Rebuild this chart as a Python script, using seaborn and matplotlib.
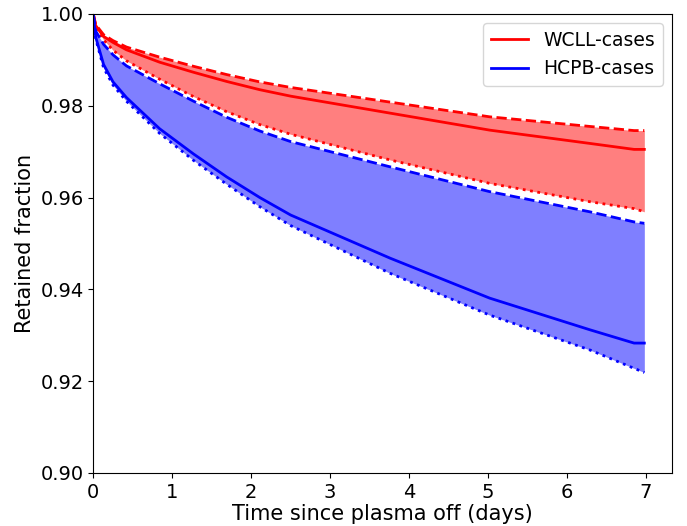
import matplotlib
matplotlib.use("Agg")
import matplotlib.pyplot as plt
import seaborn as sns

# Time since plasma shutdown (days)
days = [0.0, 0.03, 0.13, 0.25, 0.42, 0.84, 1.27, 1.69, 2.11, 2.5, 3.76, 5.02, 6.29, 6.85, 6.98]

# WCLL: upper bound, nominal, lower bound
wcll_upper = [1.0, 0.9977, 0.9955, 0.9942, 0.9928, 0.9906, 0.9886, 0.9868, 0.9852,
              0.9840, 0.9808, 0.9776, 0.9755, 0.9746, 0.9746]
wcll_nominal = [1.0, 0.9975, 0.9951, 0.9938, 0.9922, 0.9895, 0.9873, 0.9853, 0.9835,
                0.9821, 0.9784, 0.9747, 0.9718, 0.9705, 0.9705]
wcll_lower = [1.0, 0.9972, 0.9944, 0.9921, 0.9898, 0.9858, 0.9820, 0.9787, 0.9759,
              0.9738, 0.9682, 0.9631, 0.9591, 0.9576, 0.9569]

# HCPB: upper bound, nominal, lower bound
hcpb_upper = [1.0, 0.9963, 0.9934, 0.9911, 0.9887, 0.9848, 0.9810, 0.9775, 0.9745,
              0.9722, 0.9667, 0.9613, 0.9569, 0.9547, 0.9544]
hcpb_nominal = [1.0, 0.9950, 0.9890, 0.9852, 0.9818, 0.9750, 0.9695, 0.9645, 0.9600,
                0.9562, 0.9468, 0.9381, 0.9312, 0.9283, 0.9283]
hcpb_lower = [1.0, 0.9946, 0.9883, 0.9845, 0.9810, 0.9740, 0.9681, 0.9629, 0.9580,
              0.9539, 0.9435, 0.9344, 0.9268, 0.9228, 0.9219]

fig, ax = plt.subplots(figsize=(6.87, 5.26), dpi=100)
fig.subplots_adjust(left=0.1358, right=0.978, bottom=0.1008, top=0.9734)

lw = 2
for upper, nominal, lower, col, name in [
    (wcll_upper, wcll_nominal, wcll_lower, "red", "WCLL-cases"),
    (hcpb_upper, hcpb_nominal, hcpb_lower, "blue", "HCPB-cases"),
]:
    ax.fill_between(days, lower, upper, color=col, alpha=0.5, linewidth=0)
    sns.lineplot(x=days, y=nominal, color=col, lw=lw, label=name, ax=ax)
    sns.lineplot(x=days, y=upper, color=col, lw=lw, linestyle="--", legend=False, ax=ax)
    sns.lineplot(x=days, y=lower, color=col, lw=lw, linestyle=":", legend=False, ax=ax)

ax.set_xlim(left=0)
ax.set_ylim(0.90, 1.00)
yticks = [0.90, 0.92, 0.94, 0.96, 0.98, 1.00]
ax.set_yticks(yticks)
ax.set_yticklabels([f"{v:.2f}" for v in yticks])
ax.tick_params(labelsize=14)
ax.set_xlabel("Time since plasma off (days)", fontsize=15, labelpad=2)
ax.set_ylabel("Retained fraction", fontsize=15)
ax.legend(loc="upper right", fontsize=13.5)

fig.savefig("out.png", dpi=100)
